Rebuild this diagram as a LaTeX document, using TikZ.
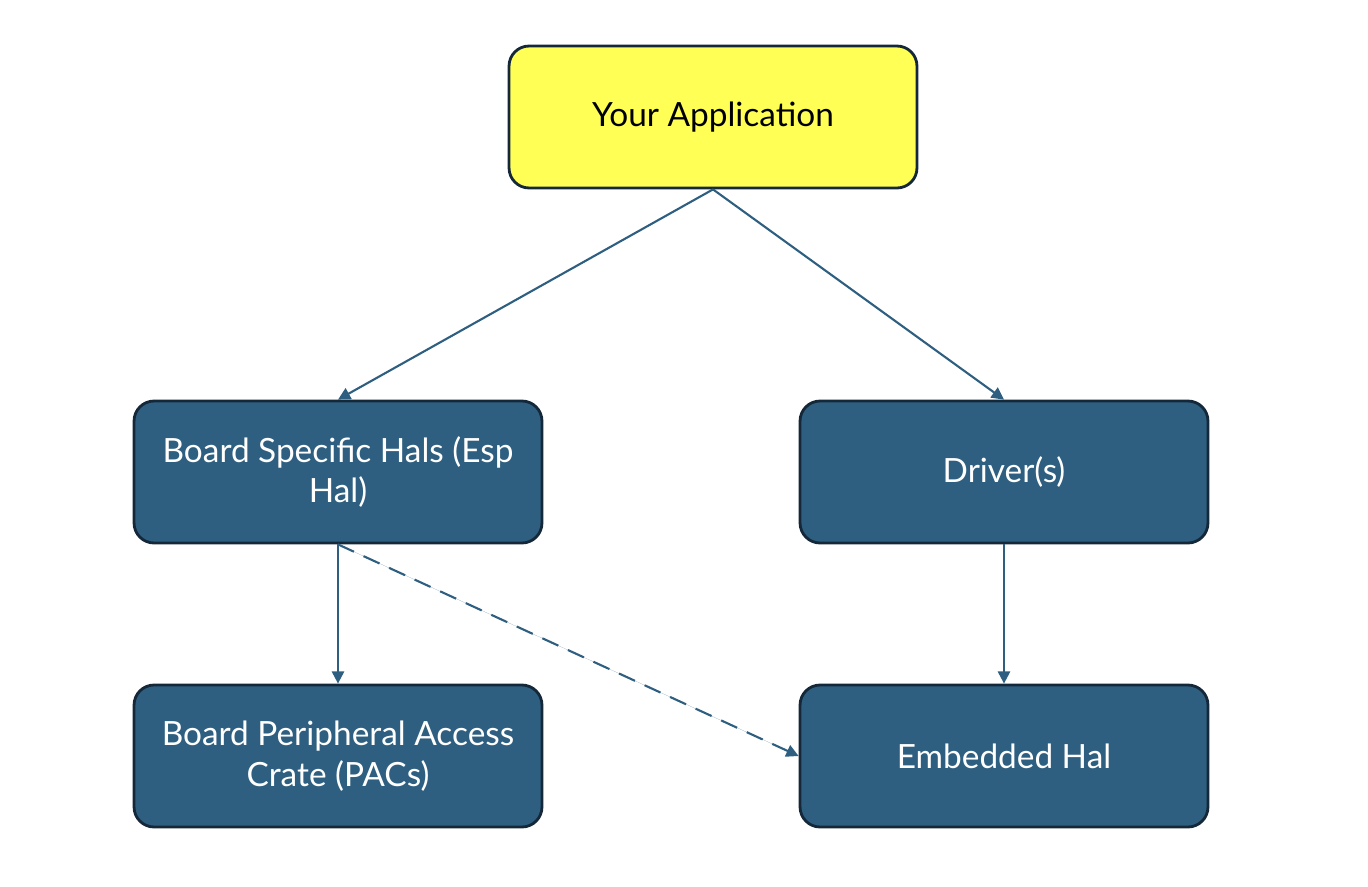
\documentclass[tikz,border=0pt]{standalone}
\usepackage{fontspec}
\setmainfont{Lato}
\usetikzlibrary{arrows.meta}
\definecolor{boxblue}{HTML}{2E5F80}
\definecolor{boxedge}{HTML}{14283A}
\definecolor{appyellow}{HTML}{FFFF55}
\definecolor{linkblue}{HTML}{2E5F80}

\begin{document}
\begin{tikzpicture}[x=0.02cm, y=-0.02cm, > = {Triangle[length=7pt, width=7pt]},
	layer/.style={draw=boxedge, line width=1.6pt, rounded corners=0.4cm, fill=boxblue, text=white,
		minimum width=8.16cm, minimum height=2.84cm, align=center, font=\fontsize{19}{23}\selectfont},
	link/.style={->, draw=linkblue, fill=linkblue, line width=1.2pt},
	]
	\useasboundingbox (0,0) rectangle (1368,886); % frame

	\node[layer, fill=appyellow, text=black] (app) at (713,117) {Your Application};
	\node[layer] (esp) at (338,472) {Board Specific Hals (Esp\\Hal)};
	\node[layer] (drv) at (1004,472) {Driver(s)};
	\node[layer] (pac) at (338,756) {Board Peripheral Access\\Crate (PACs)};
	\node[layer] (ehal) at (1004,756) {Embedded Hal};

	\draw[link] (app.south) -- (esp.north);
	\draw[link] (app.south) -- (drv.north);
	\draw[link] (esp.south) -- (pac.north);
	\draw[link] (drv.south) -- (ehal.north);
	\draw[link, dashed, dash pattern=on 10pt off 6pt] (esp.south) -- (ehal.west); % esp hal uses embedded hal

\end{tikzpicture}
\end{document}
